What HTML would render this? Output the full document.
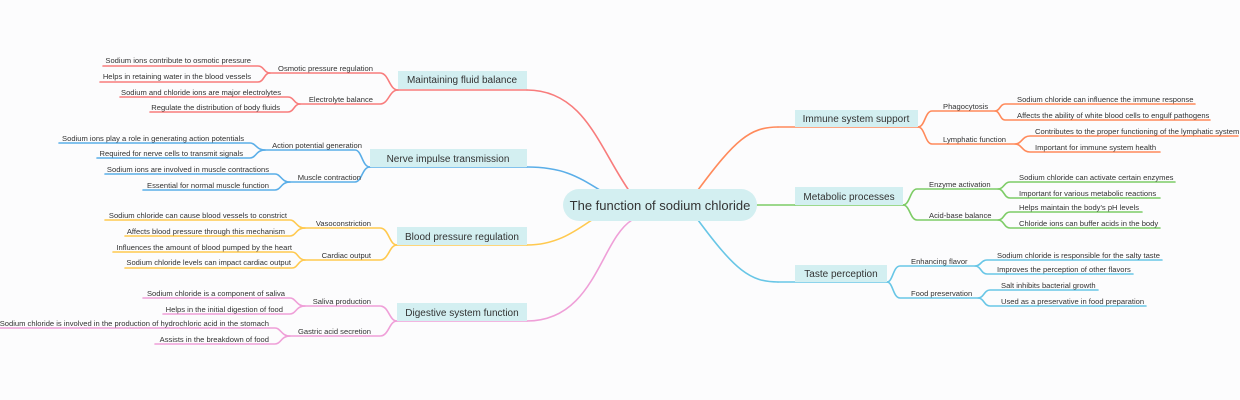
<!DOCTYPE html>
<html><head><meta charset="utf-8"><style>
html,body{margin:0;padding:0;background:#fcfcfd;}
svg{display:block;font-family:"Liberation Sans",sans-serif;}
.l{font-size:7.6px;fill:#333;}
.b{font-size:10px;fill:#333;text-anchor:middle;}
path{fill:none;stroke-width:1.6;stroke-linecap:round;}
</style></head><body>
<svg width="1240" height="400" viewBox="0 0 1240 400" xmlns="http://www.w3.org/2000/svg">
<!-- main connectors -->
<path d="M527 90 C585 90 600 150 630 192" stroke="#f87c7c" stroke-width="2.6"/>
<path d="M527 167 C565 167 580 178 603 192" stroke="#5aaee8" stroke-width="3.2"/>
<path d="M527 245 C565 245 585 222 605 212" stroke="#ffc94f" stroke-width="3"/>
<path d="M527 321 C595 321 600 240 632 220" stroke="#ef9fd8" stroke-width="2.4"/>
<path d="M698 190 C735 140 750 127 778 127" stroke="#ff8a5b" stroke-width="2.4"/>
<path d="M755 205 H795" stroke="#7dcc66" stroke-width="3.2"/>
<path d="M698 220 C735 270 750 282 778 282" stroke="#68c6e6" stroke-width="2.4"/>

<!-- center -->
<rect x="563" y="189" width="194" height="32" rx="16" fill="#d3eff1"/>
<text x="660" y="210" font-size="13" fill="#333" text-anchor="middle">The function of sodium chloride</text>

<!-- Fluid -->
<g stroke="#f87c7c">
<path d="M103 66 H258 C264 66 264 73 270 73"/>
<path d="M100 82 H258 C264 82 264 73 270 73"/>
<path d="M270 73 H380 C389 73 389 90 398 90"/>
<path d="M120 97 H288 C294 97 294 104 300 104"/>
<path d="M150 112 H288 C294 112 294 104 300 104"/>
<path d="M300 104 H380 C389 104 389 90 398 90"/>
<path d="M398 90 H527"/>
</g>
<rect x="398" y="71" width="129" height="18" fill="#d3eff1"/>
<text class="b" x="462" y="83">Maintaining fluid balance</text>
<g class="l" text-anchor="end">
<text x="251" y="63">Sodium ions contribute to osmotic pressure</text>
<text x="251" y="79">Helps in retaining water in the blood vessels</text>
<text x="373" y="71">Osmotic pressure regulation</text>
<text x="281" y="95">Sodium and chloride ions are major electrolytes</text>
<text x="280" y="110">Regulate the distribution of body fluids</text>
<text x="373" y="102">Electrolyte balance</text>
</g>

<!-- Nerve -->
<g stroke="#5aaee8">
<path d="M59 143 H250 C256 143 256 150 265 150"/>
<path d="M97 158 H250 C256 158 256 150 265 150"/>
<path d="M265 150 H355 C362 150 362 167 370 167"/>
<path d="M105 174 H275 C281 174 281 182 290 182"/>
<path d="M143 190 H275 C281 190 281 182 290 182"/>
<path d="M290 182 H355 C362 182 362 167 370 167"/>
<path d="M370 167 H527"/>
</g>
<rect x="370" y="149" width="157" height="18" fill="#d3eff1"/>
<text class="b" x="448" y="162">Nerve impulse transmission</text>
<g class="l" text-anchor="end">
<text x="244" y="141">Sodium ions play a role in generating action potentials</text>
<text x="243" y="156">Required for nerve cells to transmit signals</text>
<text x="362" y="148">Action potential generation</text>
<text x="269" y="172">Sodium ions are involved in muscle contractions</text>
<text x="269" y="188">Essential for normal muscle function</text>
<text x="361" y="180">Muscle contraction</text>
</g>

<!-- Blood -->
<g stroke="#ffc94f">
<path d="M105 220 H290 C296 220 296 228 305 228"/>
<path d="M125 236 H290 C296 236 296 228 305 228"/>
<path d="M305 228 H380 C389 228 389 245 397 245"/>
<path d="M113 252 H292 C298 252 298 260 305 260"/>
<path d="M125 268 H292 C298 268 298 260 305 260"/>
<path d="M305 260 H380 C389 260 389 245 397 245"/>
<path d="M397 245 H527"/>
</g>
<rect x="397" y="227" width="130" height="18" fill="#d3eff1"/>
<text class="b" x="462" y="240">Blood pressure regulation</text>
<g class="l" text-anchor="end">
<text x="287" y="218">Sodium chloride can cause blood vessels to constrict</text>
<text x="285" y="234">Affects blood pressure through this mechanism</text>
<text x="371" y="226">Vasoconstriction</text>
<text x="292" y="250">Influences the amount of blood pumped by the heart</text>
<text x="291" y="265">Sodium chloride levels can impact cardiac output</text>
<text x="371" y="258">Cardiac output</text>
</g>

<!-- Digestive -->
<g stroke="#ef9fd8">
<path d="M143 298 H290 C296 298 296 306 305 306"/>
<path d="M163 314 H290 C296 314 296 306 305 306"/>
<path d="M305 306 H380 C389 306 389 321 397 321"/>
<path d="M0 328 H275 C281 328 281 336 290 336"/>
<path d="M155 344 H275 C281 344 281 336 290 336"/>
<path d="M290 336 H380 C389 336 389 321 397 321"/>
<path d="M397 321 H527"/>
</g>
<rect x="397" y="303" width="130" height="18" fill="#d3eff1"/>
<text class="b" x="462" y="316">Digestive system function</text>
<g class="l" text-anchor="end">
<text x="285" y="296">Sodium chloride is a component of saliva</text>
<text x="283" y="312">Helps in the initial digestion of food</text>
<text x="371" y="304">Saliva production</text>
<text x="269" y="326">Sodium chloride is involved in the production of hydrochloric acid in the stomach</text>
<text x="269" y="342">Assists in the breakdown of food</text>
<text x="371" y="334">Gastric acid secretion</text>
</g>

<!-- Immune -->
<g stroke="#ff8a5b">
<path d="M778 127 H918"/>
<path d="M918 127 C925 127 925 111 932 111 H995 C1000 111 1000 104 1005 104 H1195"/>
<path d="M995 111 C1000 111 1000 120 1005 120 H1210"/>
<path d="M918 127 C925 127 925 144 932 144 H1015 C1022 144 1022 136 1030 136 H1238"/>
<path d="M1015 144 C1022 144 1022 152 1030 152 H1160"/>
</g>
<rect x="795" y="110" width="123" height="17" fill="#d3eff1"/>
<text class="b" x="856" y="122">Immune system support</text>
<g class="l">
<text x="943" y="109">Phagocytosis</text>
<text x="943" y="142">Lymphatic function</text>
<text x="1017" y="102">Sodium chloride can influence the immune response</text>
<text x="1017" y="118">Affects the ability of white blood cells to engulf pathogens</text>
<text x="1035" y="134">Contributes to the proper functioning of the lymphatic system</text>
<text x="1035" y="150">Important for immune system health</text>
</g>

<!-- Metabolic -->
<g stroke="#7dcc66">
<path d="M795 205 H903"/>
<path d="M903 205 C910 205 910 189 917 189 H998 C1004 189 1004 182 1010 182 H1175"/>
<path d="M998 189 C1004 189 1004 198 1010 198 H1160"/>
<path d="M903 205 C910 205 910 220 917 220 H998 C1004 220 1004 212 1010 212 H1142"/>
<path d="M998 220 C1004 220 1004 228 1010 228 H1160"/>
</g>
<rect x="795" y="187" width="108" height="18" fill="#d3eff1"/>
<text class="b" x="849" y="200">Metabolic processes</text>
<g class="l">
<text x="929" y="187">Enzyme activation</text>
<text x="929" y="218">Acid-base balance</text>
<text x="1019" y="180">Sodium chloride can activate certain enzymes</text>
<text x="1019" y="196">Important for various metabolic reactions</text>
<text x="1019" y="210">Helps maintain the body's pH levels</text>
<text x="1019" y="226">Chloride ions can buffer acids in the body</text>
</g>

<!-- Taste -->
<g stroke="#68c6e6">
<path d="M778 282 H887"/>
<path d="M887 282 C893 282 893 266 900 266 H975 C981 266 981 260 987 260 H1162"/>
<path d="M975 266 C981 266 981 274 987 274 H1133"/>
<path d="M887 282 C893 282 893 298 900 298 H978 C984 298 984 290 990 290 H1098"/>
<path d="M978 298 C984 298 984 306 990 306 H1146"/>
</g>
<rect x="795" y="265" width="92" height="17" fill="#d3eff1"/>
<text class="b" x="841" y="277">Taste perception</text>
<g class="l">
<text x="911" y="264">Enhancing flavor</text>
<text x="911" y="296">Food preservation</text>
<text x="997" y="258">Sodium chloride is responsible for the salty taste</text>
<text x="997" y="272">Improves the perception of other flavors</text>
<text x="1001" y="288">Salt inhibits bacterial growth</text>
<text x="1001" y="304">Used as a preservative in food preparation</text>
</g>
</svg>
</body></html>
